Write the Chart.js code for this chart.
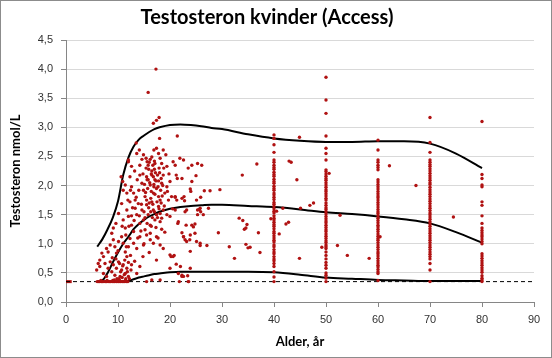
<!DOCTYPE html>
<html>
<head>
<meta charset="utf-8">
<script src="https://cdn.jsdelivr.net/npm/chart.js@4/dist/chart.umd.min.js"></script>
<style>
  html, body { margin: 0; padding: 0; background: #fff; }
  #wrap { width: 552px; height: 358px; }
</style>
</head>
<body>
<div id="wrap"><canvas id="testChart" width="552" height="358"></canvas></div>
<script>
// Axis ticks
const xTicks = [0, 10, 20, 30, 40, 50, 60, 70, 80, 90];
const yTicks = [0, 0.5, 1, 1.5, 2, 2.5, 3, 3.5, 4, 4.5];

// Detection limit (nmol/L)
const detectionLimit = 0.35;

// Children / young women, individual measurements
const childAge = [
    17.3, 15.8, 16.8, 17.4, 17.9, 13.5, 18.0, 21.4, 12.0,
    12.0, 12.6, 13.6, 14.1, 14.9, 15.4, 15.6, 16.2, 16.5, 16.9, 17.4, 17.8, 18.1, 18.4, 18.7, 19.2,
    14.2, 15.8, 17.1, 19.4, 20.6, 21.0, 21.9, 22.6, 23.5, 24.2, 25.3, 26.1, 21.2, 21.4, 22.3, 24.2, 25.0, 23.9, 24.0,
    10.6, 10.9, 11.4, 11.0, 11.7, 12.3, 12.6, 13.0, 13.3, 13.7, 14.2, 14.6, 14.9, 15.2, 15.5, 15.8, 16.2, 16.5,
    16.8, 17.1, 17.4, 17.8, 18.1, 18.4, 18.7, 19.0, 19.4, 19.7, 20.0, 20.3, 21.0, 21.3, 22.3, 22.7,
    8.8, 9.1, 9.6, 10.1, 10.7, 11.0, 11.4, 11.7, 12.0, 12.3, 12.6, 13.0, 13.3, 13.6, 13.9, 14.2, 14.6, 14.9,
    15.2, 15.5, 15.8, 16.2, 16.5, 16.8, 17.1, 17.4, 17.8, 18.1, 18.4, 18.7, 19.4, 20.0, 21.0, 21.6, 22.9, 23.2,
    24.2, 24.5, 24.8, 25.3, 25.8, 26.4, 23.1,
    6.2, 6.5, 6.9, 7.2, 7.8, 8.1, 8.5, 9.1, 9.4, 9.7, 10.1, 10.7, 11.0, 11.4, 11.7, 12.0, 12.3, 13.0, 13.6,
    14.2, 14.9, 15.5, 16.2, 16.8, 17.4, 18.1, 18.7, 20.0, 20.6, 22.6, 22.9, 23.9, 24.8, 25.8,
    5.9, 6.5, 7.2, 7.5, 7.8, 8.1, 8.5, 8.8, 9.1, 9.4, 9.7, 10.1, 10.4, 10.7, 11.0, 11.4, 11.7, 12.0, 12.6,
    13.6, 14.2, 16.5, 18.1, 20.0, 21.6, 22.3, 23.5, 15.5, 17.4,
    10.2, 10.8, 11.2, 10.5, 11.5, 9.8, 9.3, 12.2, 11.8, 10.9, 10.3, 11.3, 9.6, 12.4, 12.0,
    16.5, 17.2, 15.7, 16.9, 17.8, 18.2, 16.3, 17.5, 15.9, 18.9, 16.7, 17.9, 15.3, 16.0, 18.5, 17.0, 16.6,
    18.1, 17.3, 15.6, 19.0, 16.2, 17.7, 13.5, 14.0, 12.8, 13.1, 14.4, 12.1, 11.5,
    15.4, 15.9, 16.4, 16.8, 17.0, 17.6, 18.0, 18.3, 15.6, 16.1, 16.9, 17.3, 17.7, 18.6, 15.1, 14.8, 16.0,
    17.0, 18.8, 16.4, 17.1, 15.5, 16.7, 18.3, 17.9, 15.0, 14.5, 16.3, 17.6, 15.2, 14.1, 13.8, 15.0, 16.4,
    18.4, 12.6, 11.9, 12.4, 13.2, 14.6, 19.8, 19.5, 20.5, 21.5, 10.8, 11.6, 10.0, 8.9, 12.5, 13.2, 14.8, 16.0
];
const childT = [
    4.00, 3.60, 3.07, 3.12, 3.17, 2.73, 2.81, 2.85, 2.44,
    2.41, 2.33, 2.55, 2.61, 2.53, 2.47, 2.41, 2.45, 2.49, 2.61, 2.64, 2.55, 2.47, 2.38, 2.61, 2.53,
    2.35, 2.35, 2.38, 2.33, 2.41, 2.35, 2.47, 2.44, 2.30, 2.35, 2.38, 2.35, 2.18, 2.12, 2.12, 2.07, 2.17, 1.94, 1.90,
    2.15, 2.07, 2.01, 1.92, 1.87, 2.15, 1.98, 1.87, 1.75, 2.10, 2.18, 2.04, 1.92, 1.81, 2.15, 2.10, 2.01, 2.18,
    1.87, 2.10, 1.95, 1.81, 1.75, 2.04, 2.18, 1.87, 1.98, 1.75, 2.07, 1.81, 1.81, 1.75, 1.78, 1.81,
    1.18, 1.27, 1.35, 1.52, 1.69, 1.41, 1.27, 1.58, 1.47, 1.72, 1.32, 1.21, 1.61, 1.50, 1.69, 1.35, 1.58, 1.41,
    1.24, 1.67, 1.50, 1.32, 1.72, 1.58, 1.41, 1.50, 1.64, 1.52, 1.44, 1.58, 1.50, 1.47, 1.58, 1.38, 1.55, 1.58,
    1.32, 1.29, 1.34, 1.58, 1.61, 1.50, 1.32,
    0.66, 0.72, 0.84, 0.78, 0.92, 0.86, 0.98, 1.07, 0.95, 0.84, 1.04, 1.12, 1.01, 0.86, 0.78, 0.95, 1.09, 1.01, 0.92,
    1.12, 0.98, 1.15, 1.07, 1.01, 1.12, 0.98, 0.92, 0.81, 0.78, 1.12, 1.07, 1.15, 1.18, 1.01,
    0.55, 0.61, 0.49, 0.66, 0.44, 0.58, 0.69, 0.52, 0.64, 0.46, 0.58, 0.69, 0.44, 0.55, 0.64, 0.49, 0.58, 0.44, 0.64,
    0.49, 0.61, 0.38, 0.38, 0.58, 0.49, 0.44, 0.35, 0.35, 0.72,
    0.40, 0.42, 0.47, 0.52, 0.40, 0.40, 0.38, 0.40, 0.52, 0.62, 0.66, 0.72, 0.74, 0.80, 0.68,
    2.25, 2.22, 1.95, 1.98, 2.08, 1.92, 1.78, 1.72, 1.62, 1.65, 2.35, 2.30, 1.88, 1.70, 1.82, 1.55, 1.45,
    1.38, 1.28, 1.35, 1.20, 1.18, 1.10, 1.80, 1.92, 1.62, 1.40, 1.22, 1.30, 1.15,
    2.30, 2.28, 2.20, 2.15, 2.28, 2.18, 2.22, 2.12, 2.10, 2.05, 2.02, 2.08, 1.98, 2.00, 2.02, 2.20, 2.40,
    2.42, 2.30, 1.90, 1.85, 1.75, 1.68, 1.70, 1.60, 1.55, 1.68, 1.55, 1.45, 1.45, 1.48, 1.10, 1.00, 1.30,
    1.25, 1.48, 1.75, 1.92, 2.25, 2.45, 2.20, 1.90, 1.60, 1.35, 1.30, 0.95, 0.88, 0.76, 0.55, 0.70, 0.78, 0.85
];

// Measurements at the detection limit (ages 6-12)
const lodAge = [6.0, 6.3, 6.5, 6.8, 7.0, 7.3, 7.6, 7.8, 8.1, 8.4, 8.6, 8.9, 9.2, 9.4, 9.7,
    10.0, 10.2, 10.5, 10.8, 11.0, 11.3, 11.6, 11.9, 6.7, 7.9, 9.0, 10.3, 11.4];
const lodT = [0.35, 0.35, 0.35, 0.35, 0.35, 0.35, 0.35, 0.35, 0.35, 0.35, 0.35, 0.35, 0.35, 0.35, 0.35,
    0.35, 0.35, 0.35, 0.35, 0.35, 0.35, 0.35, 0.35, 0.37, 0.37, 0.37, 0.37, 0.37];

// Scattered adults / older teens between age groups
const otherAge = [25.9, 25.1, 22.8, 21.0, 27.4, 25.6, 25.9, 25.3, 29.6, 27.7, 26.6, 36.7, 33.9, 33.3, 34.0,
    34.8, 34.6, 34.3, 37.0, 29.3, 31.4, 34.6, 35.0, 32.4, 22.3, 22.6, 23.8, 25.1, 25.8, 27.1, 23.9, 23.2,
    22.0, 21.2, 20.2, 20.8, 23.9, 22.3, 22.6, 23.4, 21.8, 23.6, 35.4, 37.3, 40.5, 41.0, 41.7, 42.3, 42.8,
    42.9, 43.3, 44.4, 44.9, 44.9, 45.1, 46.9, 47.6, 49.2, 50.6, 52.2, 52.7, 54.1, 58.3, 60.4, 62.2, 67.3, 74.5, 39.4];
const otherT = [1.80, 1.75, 1.74, 1.80, 1.61, 1.59, 1.55, 1.50, 1.93, 1.91, 1.91, 2.37, 2.18, 1.44, 1.40,
    1.33, 1.27, 1.25, 1.19, 1.19, 0.95, 0.99, 0.93, 0.75, 1.19, 1.12, 1.07, 1.04, 0.97, 0.97, 0.87, 1.04,
    0.61, 0.65, 0.78, 0.80, 0.58, 0.46, 0.44, 0.45, 0.35, 0.35, 0.94, 0.85, 1.56, 1.17, 1.61, 1.34, 1.37,
    2.42, 2.40, 2.10, 2.83, 0.75, 1.61, 1.66, 1.70, 0.94, 2.21, 0.97, 1.49, 0.80, 0.75, 1.12, 2.34, 2.00, 1.46, 1.43];

// Adult age groups
const t40 = [2.87, 2.81, 2.70, 2.57, 2.44, 2.40, 2.35, 2.31, 2.28, 2.23, 2.19, 2.16, 2.11, 2.07, 2.04, 1.99,
    1.95, 1.92, 1.87, 1.84, 1.80, 1.76, 1.71, 1.68, 1.64, 1.60, 1.56, 1.53, 1.48, 1.44, 1.41, 1.37, 1.33,
    1.30, 1.26, 1.21, 1.18, 1.14, 1.10, 1.06, 1.03, 0.98, 0.95, 0.90, 0.86, 0.83, 0.78, 0.74, 0.71, 0.66,
    0.61, 0.52, 0.43, 0.35];
const t50 = [3.86, 3.47, 3.24, 2.85, 2.64, 2.55, 2.44, 2.27, 2.24, 2.20, 2.16, 2.12, 2.09, 2.05, 2.01, 1.97,
    1.93, 1.90, 1.86, 1.82, 1.78, 1.75, 1.70, 1.66, 1.62, 1.59, 1.55, 1.51, 1.47, 1.43, 1.39, 1.36, 1.32,
    1.28, 1.24, 1.21, 1.17, 1.13, 1.09, 1.05, 1.02, 0.98, 0.95, 0.92, 0.86, 0.80, 0.74, 0.68, 0.63, 0.58,
    0.50, 0.46, 0.41, 0.35];
const t60 = [2.78, 2.61, 2.44, 2.40, 2.35, 2.31, 2.27, 2.10, 2.06, 2.02, 1.98, 1.94, 1.90, 1.86, 1.82, 1.79,
    1.75, 1.71, 1.67, 1.63, 1.59, 1.55, 1.52, 1.48, 1.44, 1.40, 1.36, 1.32, 1.29, 1.25, 1.21, 1.17, 1.13,
    1.09, 1.06, 1.02, 0.98, 0.94, 0.90, 0.86, 0.83, 0.79, 0.75, 0.71, 0.67, 0.63, 0.60, 0.56, 0.52, 0.49, 0.37];
const t70 = [3.17, 2.74, 2.57, 2.44, 2.40, 2.36, 2.33, 2.29, 2.25, 2.21, 2.17, 2.13, 2.09, 2.05, 2.02, 1.97,
    1.93, 1.89, 1.85, 1.81, 1.77, 1.73, 1.69, 1.65, 1.61, 1.57, 1.53, 1.50, 1.46, 1.42, 1.38, 1.34, 1.30,
    1.26, 1.22, 1.18, 1.14, 1.10, 1.06, 1.02, 0.98, 0.94, 0.90, 0.86, 0.82, 0.78, 0.74, 0.66, 0.55, 0.35];
const t80 = [3.10, 2.19, 2.12, 2.01, 1.98, 1.72, 1.66, 1.48, 1.35, 1.27, 1.23, 1.19, 1.15, 1.12, 1.08, 1.04,
    1.00, 0.83, 0.79, 0.75, 0.71, 0.67, 0.63, 0.59, 0.55, 0.51, 0.45, 0.41, 0.38, 0.35];

// Reference curves
const curveAge = [6, 7, 8, 9, 10, 11, 12, 13, 14, 15, 16, 17, 18, 20, 22, 24, 26, 28, 30, 35, 40, 45, 50, 55, 60, 65, 70, 75, 80];
const upperCurve = [0.95, 1.08, 1.25, 1.45, 1.73, 2.18, 2.48, 2.67, 2.79, 2.86, 2.92, 2.97, 3.00, 3.04, 3.05, 3.04, 3.02, 2.99, 2.97, 2.88, 2.81, 2.77, 2.75, 2.75, 2.76, 2.76, 2.72, 2.55, 2.30];
const middleCurve = [0.35, 0.37, 0.50, 0.68, 0.85, 1.00, 1.12, 1.25, 1.34, 1.41, 1.47, 1.51, 1.55, 1.60, 1.63, 1.65, 1.66, 1.67, 1.67, 1.65, 1.63, 1.59, 1.54, 1.51, 1.47, 1.42, 1.35, 1.20, 1.02];
const lowerCurve = [0.35, 0.35, 0.35, 0.35, 0.35, 0.35, 0.36, 0.39, 0.42, 0.44, 0.46, 0.48, 0.49, 0.51, 0.52, 0.52, 0.52, 0.52, 0.52, 0.52, 0.51, 0.47, 0.42, 0.40, 0.38, 0.37, 0.36, 0.36, 0.36];

const red = '#B01212';

function pairs(xs, ys) {
    return xs.map((x, i) => ({ x: x, y: ys[i] }));
}
function column(age, values) {
    return values.map(v => ({ x: age, y: v }));
}
function comma(v) {
    return v.toFixed(1).replace('.', ',');
}

const points = [].concat(
    pairs(childAge, childT),
    pairs(lodAge, lodT),
    pairs(otherAge, otherT),
    column(40, t40), column(50, t50), column(60, t60), column(70, t70), column(80, t80)
);

function curve(values) {
    return {
        data: pairs(curveAge, values),
        showLine: true,
        borderColor: '#000',
        borderWidth: 2,
        pointRadius: 0,
        cubicInterpolationMode: 'monotone'
    };
}

// White background and grey frame round the whole picture
const framePlugin = {
    id: 'frame',
    beforeDraw(chart) {
        const c = chart.ctx;
        c.save();
        c.fillStyle = '#fff';
        c.fillRect(0, 0, chart.width, chart.height);
        c.restore();
    },
    afterDraw(chart) {
        const c = chart.ctx;
        c.save();
        c.strokeStyle = '#8c8c8c';
        c.lineWidth = 1;
        c.strokeRect(0.5, 0.5, chart.width - 1, chart.height - 1);
        c.restore();
    }
};

new Chart(document.getElementById('testChart'), {
    type: 'scatter',
    data: {
        datasets: [
            {
                data: points,
                backgroundColor: red,
                borderColor: red,
                borderWidth: 0,
                pointRadius: 1.7
            },
            curve(upperCurve),
            curve(middleCurve),
            curve(lowerCurve),
            {
                // detection limit line
                data: [{ x: 0, y: detectionLimit }, { x: 90, y: detectionLimit }],
                showLine: true,
                borderColor: '#000',
                borderWidth: 1,
                borderDash: [4, 3],
                pointRadius: 0
            },
            {
                // marker on the y axis
                data: [{ x: 0, y: detectionLimit }, { x: 1.1, y: detectionLimit }],
                showLine: true,
                borderColor: red,
                borderWidth: 3,
                pointRadius: 0
            }
        ]
    },
    options: {
        responsive: false,
        animation: false,
        layout: { padding: { left: 0, right: 18, top: 0, bottom: 0 } },
        plugins: {
            legend: { display: false },
            tooltip: { enabled: false },
            title: {
                display: true,
                text: 'Testosteron kvinder (Access)',
                color: '#000',
                font: { family: 'Lato', size: 20, weight: 'bold' },
                padding: { top: 6, bottom: 10 }
            }
        },
        scales: {
            x: {
                type: 'linear',
                min: 0,
                max: 90,
                afterBuildTicks(scale) { scale.ticks = xTicks.map(v => ({ value: v })); },
                afterFit(scale) { scale.height = 56; },
                ticks: {
                    color: '#333',
                    font: { family: 'Liberation Sans', size: 11 },
                    padding: 6,
                    maxRotation: 0
                },
                grid: { drawOnChartArea: false, tickLength: 5, color: '#868686' },
                border: { color: '#868686' },
                title: {
                    display: true,
                    text: 'Alder, år',
                    color: '#000',
                    font: { family: 'Lato', size: 13, weight: 'bold' },
                    padding: { top: 0, bottom: 8 }
                }
            },
            y: {
                min: 0,
                max: 4.5,
                afterBuildTicks(scale) { scale.ticks = yTicks.map(v => ({ value: v })); },
                afterFit(scale) { scale.width = 66; },
                ticks: {
                    color: '#333',
                    font: { family: 'Liberation Sans', size: 11 },
                    padding: 8,
                    callback: v => comma(v)
                },
                grid: { color: '#d9d9d9', tickColor: '#868686', tickLength: 5 },
                border: { color: '#868686' },
                title: {
                    display: true,
                    text: 'Testosteron nmol/L',
                    color: '#000',
                    font: { family: 'Lato', size: 13, weight: 'bold' },
                    padding: { top: 8, bottom: 0 }
                }
            }
        }
    },
    plugins: [framePlugin]
});
</script>
</body>
</html>
